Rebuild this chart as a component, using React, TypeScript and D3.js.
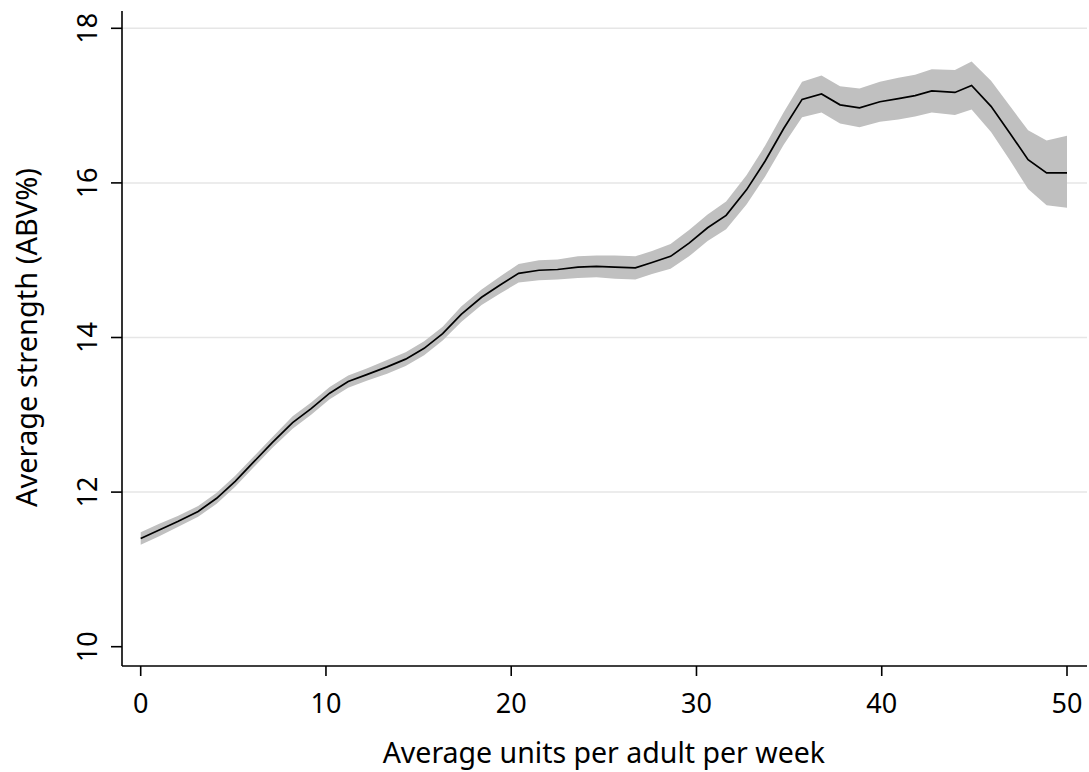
import React from 'react';
import * as d3 from 'd3';

// average units per adult per week (x) and average strength ABV% (y) with CI
const units = [
  0, 1.0, 2.0, 3.1, 4.1, 5.1, 6.1, 7.1, 8.2, 9.2,
  10.2, 11.2, 12.2, 13.3, 14.3, 15.3, 16.3, 17.3, 18.4, 19.4,
  20.4, 21.5, 22.5, 23.6, 24.6, 25.6, 26.7, 27.6, 28.6, 29.6,
  30.6, 31.6, 32.7, 33.7, 34.7, 35.7, 36.75, 37.75, 38.8, 39.9,
  40.9, 41.8, 42.7, 43.95, 44.85, 45.9, 46.9, 47.9, 48.9, 50.0,
];
const strength = [
  11.40, 11.51, 11.62, 11.75, 11.92, 12.14, 12.39, 12.64, 12.90, 13.08,
  13.28, 13.43, 13.52, 13.62, 13.72, 13.86, 14.05, 14.30, 14.52, 14.68,
  14.83, 14.87, 14.88, 14.91, 14.92, 14.91, 14.90, 14.97, 15.05, 15.22,
  15.42, 15.58, 15.91, 16.28, 16.70, 17.08, 17.15, 17.01, 16.97, 17.05,
  17.09, 17.13, 17.19, 17.17, 17.26, 16.99, 16.65, 16.30, 16.13, 16.13,
];
const ciLow = [
  11.32, 11.43, 11.55, 11.68, 11.85, 12.07, 12.32, 12.57, 12.82, 13.00,
  13.20, 13.35, 13.44, 13.53, 13.63, 13.77, 13.96, 14.20, 14.42, 14.57,
  14.71, 14.74, 14.75, 14.77, 14.78, 14.76, 14.75, 14.82, 14.89, 15.05,
  15.25, 15.40, 15.72, 16.08, 16.49, 16.85, 16.91, 16.77, 16.72, 16.79,
  16.82, 16.86, 16.91, 16.88, 16.95, 16.66, 16.30, 15.92, 15.71, 15.68,
];
const ciHigh = [
  11.48, 11.59, 11.69, 11.82, 11.99, 12.21, 12.46, 12.71, 12.98, 13.16,
  13.36, 13.51, 13.60, 13.71, 13.81, 13.95, 14.14, 14.40, 14.62, 14.79,
  14.95, 15.00, 15.01, 15.05, 15.06, 15.06, 15.05, 15.12, 15.21, 15.39,
  15.59, 15.76, 16.10, 16.48, 16.91, 17.31, 17.39, 17.25, 17.22, 17.31,
  17.36, 17.40, 17.47, 17.46, 17.57, 17.32, 17.00, 16.68, 16.55, 16.61,
];
const xTicks = [0, 10, 20, 30, 40, 50];
const yTicks = [10, 12, 14, 16, 18];

const width = 1089;
const height = 772;
const font = '"Noto Sans", "Open Sans", sans-serif';

export default function App() {
  const plotLeft = 122;
  const plotRight = 1087;
  const plotTop = 11;
  const plotBottom = 666;

  const x = d3.scaleLinear().domain([0, 50]).range([140.7, 1067]);
  const y = d3.scaleLinear().domain([10, 18]).range([646.7, 28.3]);

  const rows = units.map((u, i) => ({ u, v: strength[i], lo: ciLow[i], hi: ciHigh[i] }));

  const area = d3
    .area<typeof rows[number]>()
    .x((d) => x(d.u))
    .y0((d) => y(d.lo))
    .y1((d) => y(d.hi));
  const line = d3
    .line<typeof rows[number]>()
    .x((d) => x(d.u))
    .y((d) => y(d.v));

  return (
    <svg
      width={width}
      height={height}
      style={{ position: 'absolute', left: 0, top: 0, background: '#fff' }}
    >
      {/* grid */}
      {yTicks.slice(1).map((t) => (
        <line key={'g' + t} x1={plotLeft} x2={plotRight} y1={y(t)} y2={y(t)} stroke="#e6e6e6" strokeWidth={1.5} />
      ))}

      <path d={area(rows) || ''} fill="#c0c0c0" />
      <path d={line(rows) || ''} fill="none" stroke="#000" strokeWidth={1.7} />

      {/* y axis */}
      <line x1={plotLeft} x2={plotLeft} y1={plotTop} y2={plotBottom} stroke="#000" strokeWidth={1.6} />
      {yTicks.map((t) => (
        <g key={'y' + t}>
          <line x1={plotLeft - 11} x2={plotLeft} y1={y(t)} y2={y(t)} stroke="#000" strokeWidth={1.6} />
          <text
            transform={`translate(97,${y(t)}) rotate(-90)`}
            textAnchor="middle"
            fontFamily={font}
            fontSize={27}
            fill="#000"
          >
            {t}
          </text>
        </g>
      ))}

      {/* x axis */}
      <line x1={plotLeft} x2={plotRight} y1={plotBottom} y2={plotBottom} stroke="#000" strokeWidth={1.6} />
      {xTicks.map((t) => (
        <g key={'x' + t}>
          <line x1={x(t)} x2={x(t)} y1={plotBottom} y2={plotBottom + 10} stroke="#000" strokeWidth={1.6} />
          <text x={x(t)} y={713} textAnchor="middle" fontFamily={font} fontSize={27} fill="#000">
            {t}
          </text>
        </g>
      ))}

      <text x={(x(0) + x(50)) / 2} y={763} textAnchor="middle" fontFamily={font} fontSize={28.5} fill="#000">
        Average units per adult per week
      </text>
      <text
        transform={`translate(37,${(y(10) + y(18)) / 2}) rotate(-90)`}
        textAnchor="middle"
        fontFamily={font}
        fontSize={29}
        fill="#000"
      >
        Average strength (ABV%)
      </text>
    </svg>
  );
}
